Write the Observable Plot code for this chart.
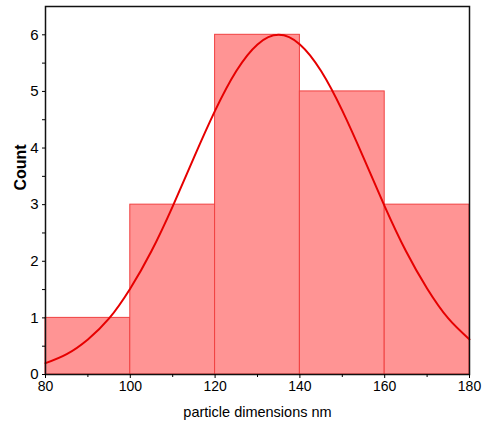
<!DOCTYPE html>
<html><head><meta charset="utf-8">
<script src="https://cdn.jsdelivr.net/npm/d3@7"></script>
<script src="https://cdn.jsdelivr.net/npm/@observablehq/plot@0.6"></script>
<style>body{margin:0;background:#fff;} svg{font-family:"Liberation Sans",Arial,sans-serif;}</style>
</head><body><div id="chart"></div>
<script>
const binStart = [80, 100, 120, 140, 160];
const binEnd = [100, 120, 140, 160, 180];
const counts = [1, 3, 6, 5, 3];
const curveX = [80,85,90,95,100,105,110,115,120,125,130,135,140,145,150,155,160,165,170,175,180];
const curveY = [0.20,0.36,0.62,0.99,1.52,2.18,2.97,3.83,4.66,5.36,5.83,6.00,5.83,5.36,4.66,3.83,2.97,2.18,1.52,0.99,0.62];
const xTicks = [80,100,120,140,160,180];
const xMinor = [90,110,130,150,170];
const yTicks = [0,1,2,3,4,5,6];
const yMinor = [0.5,1.5,2.5,3.5,4.5,5.5];

const bars = binStart.map((s,i)=>({x1:s,x2:binEnd[i],y:counts[i]}));
const curve = curveX.map((x,i)=>({x,y:curveY[i]}));

const chart = Plot.plot({
  width: 487, height: 431,
  marginLeft: 45, marginRight: 18, marginTop: 6, marginBottom: 57,
  style: {fontSize: "14px", fontFamily: '"Liberation Sans", Arial, sans-serif', color: "#000"},
  x: {domain: [80,180]},
  y: {domain: [0,6.5]},
  marks: [
    Plot.rectY(bars, {x1:"x1", x2:"x2", y:"y", fill:"#ff9494", stroke:"#f04040", strokeWidth:1}),
    Plot.line(curve, {x:"x", y:"y", stroke:"#e60000", strokeWidth:2, curve:"natural"}),
    Plot.frame({stroke:"#111", strokeWidth:1.5}),
    Plot.axisY({ticks: yTicks, tickFormat: "d", tickSize: 3, tickPadding: 4, label: null, fontSize: 15}),
    Plot.axisY({ticks: yMinor, tickSize: 3, text: null, label: null}),
    Plot.axisX({ticks: xTicks, tickFormat: "d", tickSize: 4, tickPadding: 3, label: null}),
    Plot.axisX({ticks: xMinor, tickSize: 3, text: null, label: null}),
    Plot.text(["particle dimensions nm"], {frameAnchor:"bottom", dy: 42, fontSize: 14.5, fill:"#000"}),
    Plot.text(["Count"], {frameAnchor:"left", dx: -25, rotate: -90, fontSize: 16, fontWeight:"bold", fill:"#000"})
  ]
});
document.getElementById("chart").append(chart);
</script></body></html>
